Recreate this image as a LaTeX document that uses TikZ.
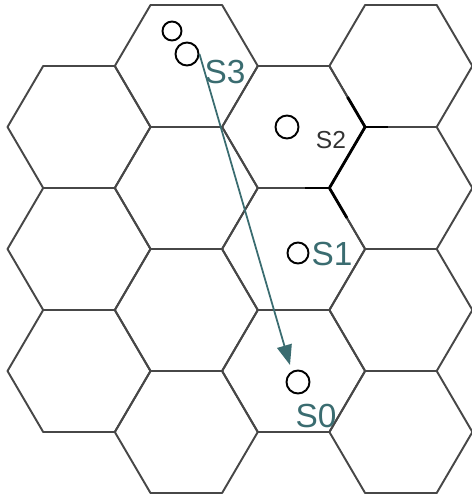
\documentclass[tikz,border=0pt]{standalone}
\usepackage{fontspec}
\setmainfont{Liberation Sans}
\usetikzlibrary{arrows.meta}
\definecolor{tealtext}{RGB}{58,108,112}
\tikzset{
  cellline/.style={draw=black!72, line width=1.1pt, line join=round},
  boldline/.style={draw=black, line width=1.6pt},
  station/.style={circle, draw=black, line width=1.1pt, inner sep=0pt, minimum size=0.46cm},
  smallstation/.style={station, minimum size=0.38cm},
  slabel/.style={inner sep=0pt, text=tealtext, font=\fontsize{19}{22}\selectfont},
  glabel/.style={inner sep=0pt, text=black!80, font=\fontsize{14}{16}\selectfont},
  move/.style={-{Triangle[length=0.4cm, width=0.3cm]}, draw=tealtext, fill=tealtext, line width=1pt},
}

\begin{document}
\begin{tikzpicture}[x=0.02cm, y=-0.02cm]
    \useasboundingbox (0,0) rectangle (471,498);
    % hexagonal cells
    \foreach \cx/\cy in {79/127, 79/249, 79/371,
                         186.3/66, 186.3/188, 186.3/310, 186.3/432,
                         293.6/127, 293.6/249, 293.6/371,
                         400.9/66, 400.9/188, 400.9/310, 400.9/432}
      \draw[cellline] (\cx-71.5,\cy) -- (\cx-35.8,\cy-61) -- (\cx+35.8,\cy-61)
        -- (\cx+71.5,\cy) -- (\cx+35.8,\cy+61) -- (\cx-35.8,\cy+61) -- cycle;
    % boundary of cell S2
    \draw[boldline] (347.5,97) -- (365.1,127) -- (329.4,188) -- (347,218);
    \draw[boldline] (365.1,127) -- (388,127);
    \draw[boldline] (305,188) -- (329.4,188);
    % stations
    \node[smallstation] (s3a) at (172,31) {};
    \node[station] (s3b) at (187,54) {};
    \node[station] (s2) at (287,127) {};
    \node[station, minimum size=0.42cm] (s1) at (298,253) {};
    \node[station] (s0) at (298,382) {};
    \node[slabel] (l3) at (225,72) {S3};
    \node[glabel] (l2) at (331,140) {S2};
    \node[slabel] (l1) at (332,254) {S1};
    \node[slabel] (l0) at (316,416) {S0};
    \coordinate (tip) at (290,365);
    \draw[move] (s3b.east) -- (tip);
  \end{tikzpicture}
\end{document}
